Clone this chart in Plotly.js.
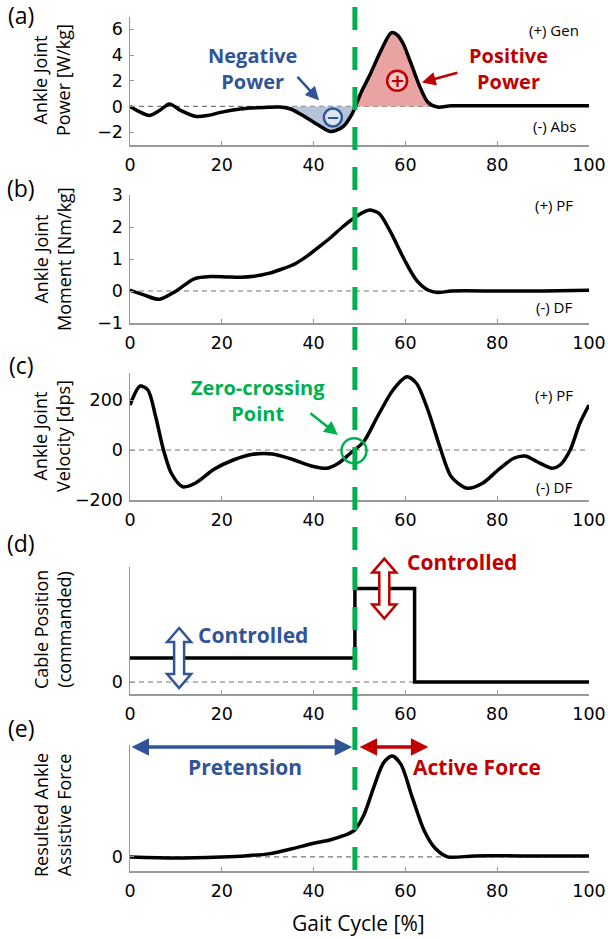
<!DOCTYPE html>
<html><head><meta charset="utf-8">
<script src="https://cdn.plot.ly/plotly-3.0.1.min.js"></script>
<style>html,body{margin:0;padding:0;background:#fff}#chart{width:608px;height:939px}</style>
</head><body><div id="chart"></div>
<script>
// ---- data ----
const xTicks = [0, 20, 40, 60, 80, 100];

const powerX = [0, 2, 4.3, 6.5, 8.6, 11, 14.5, 17, 20, 24, 27.6, 32.7, 35, 37, 39, 41.2, 43.7, 46.3, 48.4, 49.1, 50.5, 52.2, 54.7, 56.9, 58.1, 59.5, 60.7, 62, 63.2, 64.9, 67, 70, 80, 90, 100];
const powerY = [0, -0.4, -0.7, -0.3, 0.2, -0.3, -0.78, -0.7, -0.44, -0.2, -0.1, -0.05, -0.2, -0.57, -1.0, -1.48, -1.95, -1.6, -0.57, 0, 1.2, 2.4, 4.36, 5.73, 5.6, 4.9, 3.84, 2.6, 1.5, 0.33, -0.05, 0.05, 0.05, 0.05, 0.05];

const momentX = [0, 3, 6.4, 9.8, 12, 14, 17.5, 21, 24.2, 27, 30.2, 33, 36.1, 38.5, 41.2, 43.8, 46.3, 49.2, 51, 52.2, 54.3, 55.8, 57.3, 59.8, 62.4, 64.9, 67, 70, 80, 90, 100];
const momentY = [0.03, -0.12, -0.26, -0.02, 0.2, 0.38, 0.45, 0.44, 0.43, 0.46, 0.55, 0.68, 0.86, 1.08, 1.38, 1.68, 2.0, 2.32, 2.47, 2.53, 2.42, 2.1, 1.7, 0.97, 0.34, 0.03, -0.05, 0, 0, 0, 0.02];

const velX = [0, 2.2, 3.9, 5.6, 7.3, 9, 11.5, 14.2, 18.3, 22.5, 26.8, 31, 35.3, 39.5, 42.9, 45.4, 48, 50.9, 53.9, 57.3, 60.3, 62.4, 64.9, 67.5, 70, 73.4, 76.8, 80.2, 83.6, 86.1, 88.7, 92, 93.7, 95.9, 98, 100];
const velY = [180, 256, 240, 133, 0, -93, -147, -133, -77, -40, -17, -16, -37, -64, -73, -53, -13, 33, 133, 240, 293, 267, 160, 13, -107, -153, -133, -80, -33, -24, -47, -73, -60, 0, 107, 180];

const cableX = [0, 49, 62, 100];
const cableY = [1, 3.9, 0, 0];

const forceX = [0, 10, 20, 25, 30.2, 35.3, 39.5, 43.7, 46.5, 48.8, 50.9, 53.1, 55.2, 57.1, 59, 61.5, 64.1, 66.6, 69.2, 75, 85, 100];
const forceY = [0, -0.01, 0, 0.01, 0.03, 0.08, 0.13, 0.17, 0.21, 0.26, 0.41, 0.69, 0.93, 1.0, 0.92, 0.59, 0.26, 0.08, 0, 0.01, 0.01, 0.01];

const zeroCross = 49;
const negRange = [32.7, 49.1];
const posRange = [49.1, 67];

// ---- helpers ----
const W = 608, H = 939;
const PX = v => v / W;
const PY = v => 1 - v / H;
const BLUE = '#2F5597', RED = '#C00000', GREEN = '#00B050';
const TXT = 'Open Sans';

function sub(xs, ys, r) {
  const ox = [], oy = [];
  xs.forEach((x, i) => { if (x >= r[0] - 1e-9 && x <= r[1] + 1e-9) { ox.push(x); oy.push(ys[i]); } });
  return [ox, oy];
}
const [nX, nY] = sub(powerX, powerY, negRange);
const [pX, pY] = sub(powerX, powerY, posRange);

const line = {color: '#000', width: 3.5, shape: 'spline', smoothing: 0.8};
const traces = [
  {x: nX, y: nY, xaxis: 'x', yaxis: 'y', mode: 'lines', fill: 'tozeroy', fillcolor: '#B6C4D9', line: {width: 0, shape: 'spline', smoothing: 0.8}, hoverinfo: 'skip'},
  {x: pX, y: pY, xaxis: 'x', yaxis: 'y', mode: 'lines', fill: 'tozeroy', fillcolor: '#EAA3A3', line: {width: 0, shape: 'spline', smoothing: 0.8}, hoverinfo: 'skip'},
  {x: powerX, y: powerY, xaxis: 'x', yaxis: 'y', mode: 'lines', line},
  {x: momentX, y: momentY, xaxis: 'x2', yaxis: 'y2', mode: 'lines', line},
  {x: velX, y: velY, xaxis: 'x3', yaxis: 'y3', mode: 'lines', line},
  {x: cableX, y: cableY, xaxis: 'x4', yaxis: 'y4', mode: 'lines', line: {color: '#000', width: 3.5, shape: 'hv'}},
  {x: forceX, y: forceY, xaxis: 'x5', yaxis: 'y5', mode: 'lines', line}
];

function xa(anchor) {
  return {domain: [PX(130), PX(589)], range: [0, 100], anchor, tickvals: xTicks,
    ticks: 'inside', ticklen: 4, tickcolor: '#999', showline: true, linecolor: '#999', linewidth: 1.5,
    showgrid: false, zeroline: false, ticklabelstandoff: 3,
    tickfont: {family: 'DejaVu Sans', size: 17.5, color: '#000'}, fixedrange: true};
}
function ya(anchor, top, bot, range, tickvals) {
  return {domain: [PY(bot), PY(top)], range, anchor, tickvals,
    ticks: 'inside', ticklen: 4, tickcolor: '#999', showline: true, linecolor: '#999', linewidth: 1.5,
    showgrid: false, zeroline: false, ticklabelstandoff: 2,
    tickfont: {family: 'DejaVu Sans', size: 17.5, color: '#000'}, fixedrange: true};
}

const layout = {
  width: W, height: H, margin: {l: 0, r: 0, t: 0, b: 0}, showlegend: false,
  paper_bgcolor: '#fff', plot_bgcolor: 'rgba(0,0,0,0)',
  xaxis: xa('y'), xaxis2: xa('y2'), xaxis3: xa('y3'), xaxis4: xa('y4'), xaxis5: xa('y5'),
  yaxis: ya('x', 16.5, 145, [-3, 7], [-2, 0, 2, 4, 6]),
  yaxis2: ya('x2', 195, 323, [-1, 3], [-1, 0, 1, 2, 3]),
  yaxis3: ya('x3', 373, 500, [-200, 308], [-200, 0, 200]),
  yaxis4: ya('x4', 567, 694, [-0.5, 4.8], [0]),
  yaxis5: ya('x5', 745, 871, [-0.14, 1.11], [0]),
  shapes: [], annotations: []
};
// data value -> paper fraction along an axis
function toPaperY(ax, v) {
  const a = layout[ax];
  return a.domain[0] + (v - a.range[0]) / (a.range[1] - a.range[0]) * (a.domain[1] - a.domain[0]);
}

// zero dashed lines
['', '2', '3', '4', '5'].forEach(s => {
  layout.shapes.push({type: 'line', xref: 'x' + s, yref: 'y' + s, x0: 0, x1: 100, y0: 0, y1: 0,
    line: {color: '#777', width: 1.2, dash: '5px,4px'}, layer: 'below'});
});
// green zero-crossing line
layout.shapes.push({type: 'line', xref: 'x', yref: 'paper', x0: zeroCross, x1: zeroCross, y0: PY(7), y1: PY(872),
  line: {color: GREEN, width: 5, dash: '23px,17px'}});

// circles
function circ(xr, yr, x, y, r, color, fill, w) {
  layout.shapes.push({type: 'circle', xref: xr, yref: yr, xsizemode: 'pixel', ysizemode: 'pixel',
    xanchor: x, yanchor: y, x0: -r, x1: r, y0: -r, y1: r, line: {color, width: w}, fillcolor: fill});
}
circ('x', 'y', 44.2, -0.86, 9, BLUE, '#DDE5EF', 2.5);
circ('x', 'y', 58.2, 2.0, 10, RED, '#F3C9C9', 2.5);
circ('x3', 'y3', 48.8, -3, 12.5, GREEN, 'rgba(0,0,0,0)', 2.5);

// hollow double arrows (d)
const dbl = 'M 0,30 L 12,16 L 5,16 L 5,-16 L 12,-16 L 0,-30 L -12,-16 L -5,-16 L -5,16 L -12,16 Z';
[[10.7, 1.0, BLUE], [55.4, 3.9, RED]].forEach(([x, y, c]) => {
  layout.shapes.push({type: 'path', xref: 'x4', yref: 'paper', xsizemode: 'pixel', ysizemode: 'pixel',
    xanchor: x, yanchor: toPaperY('yaxis4', y), path: dbl, line: {color: c, width: 2.5}, fillcolor: '#fff'});
});

const A = layout.annotations;
function txt(text, x, y, size, color, opts) {
  A.push(Object.assign({text, x: PX(x), y: PY(y), xref: 'paper', yref: 'paper', showarrow: false,
    xanchor: 'center', yanchor: 'middle', font: {family: TXT, size, color}}, opts || {}));
}
// panel letters
[['(a)', 15], ['(b)', 188], ['(c)', 365], ['(d)', 543], ['(e)', 728]].forEach(([t, y]) => txt(t, 21, y, 23, '#000'));
// y titles
[['Ankle Joint<br>Power [W/kg]', 80], ['Ankle Joint<br>Moment [Nm/kg]', 259], ['Ankle Joint<br>Velocity [dps]', 436],
 ['Cable Position<br>(commanded)', 630], ['Resulted Ankle<br>Assistive Force', 815]].forEach(([t, y]) =>
  txt(t, 52, y, 18, '#000', {textangle: -90}));
// sign labels
txt('(+) Gen', 554, 30, 15, '#000'); txt('(-) Abs', 554, 126, 15, '#000');
txt('(+) PF', 554, 205, 15, '#000'); txt('(-) DF', 554, 307, 15, '#000');
txt('(+) PF', 554, 395, 15, '#000'); txt('(-) DF', 554, 487, 15, '#000');
// coloured labels
function btxt(t, x, y, c, size) {
  size = size || 21;
  txt(t, x, y, size, c, {font: {family: TXT, weight: 'bold', size, color: c}});
}
btxt('Negative<br>Power', 252, 69, BLUE, 20);
btxt('Positive<br>Power', 508, 69, RED, 20);
btxt('Zero-crossing<br>Point', 258, 401, GREEN, 20);
btxt('Controlled', 253, 635, BLUE); btxt('Controlled', 462, 562, RED);
btxt('Pretension', 245, 767, BLUE); btxt('Active Force', 477, 767, RED);
// signs in circles
A.push({text: '−', x: 44.2, y: -0.86, xref: 'x', yref: 'y', showarrow: false, font: {family: 'DejaVu Sans', size: 16, color: BLUE, weight: 'bold'}});
A.push({text: '+', x: 58.2, y: 2.0, xref: 'x', yref: 'y', showarrow: false, font: {family: 'DejaVu Sans', size: 18, color: RED, weight: 'bold'}});
// pointer arrows
function ptr(xr, yr, x, y, ax, ay, c) {
  A.push({text: '', x, y, xref: xr, yref: yr, ax, ay, showarrow: true, arrowhead: 2, arrowsize: 1.1,
    arrowwidth: 2.5, arrowcolor: c, standoff: 0});
}
ptr('x', 'y', 41.2, 0.47, -23, -25, BLUE);
ptr('x', 'y', 63.6, 1.87, 37, -10, RED);
ptr('x3', 'y3', 45.3, 60, -29, -23, GREEN);
// span arrows (e)
function span(x0, x1, y, c) {
  A.push({text: '', x: x1, y, ax: x0, ay: y, xref: 'x5', yref: 'y5', axref: 'x5', ayref: 'y5', showarrow: true,
    arrowside: 'end+start', arrowhead: 2, startarrowhead: 2, arrowsize: 1, startarrowsize: 1,
    arrowwidth: 3.5, arrowcolor: c, standoff: 0, startstandoff: 0});
}
span(0, 48.4, 1.09, BLUE);
span(49.7, 65, 1.09, RED);
// x title
txt('Gait Cycle [%]', 358, 923, 21, '#000');

Plotly.newPlot('chart', traces, layout, {staticPlot: true, displayModeBar: false});
</script></body></html>
